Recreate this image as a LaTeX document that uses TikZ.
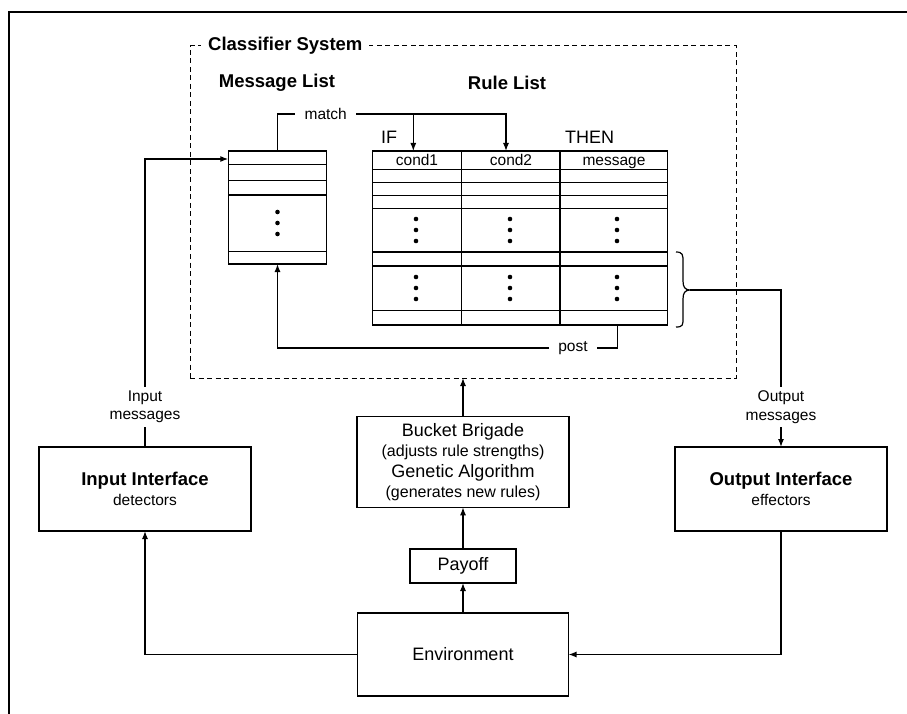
\documentclass[tikz,border=0pt]{standalone}
\usepackage{fontspec}
\setmainfont{Liberation Sans}
\usetikzlibrary{arrows.meta}
\newcommand\fsm{\fontsize{15.5}{18.5}\selectfont}
\newcommand\flg{\fontsize{18}{20.5}\selectfont}
\newcommand\fbf{\fontsize{18.5}{21}\selectfont\bfseries}
\begin{document}
\begin{tikzpicture}[x=1pt,y=-1pt,
  box/.style={draw, line width=1.2pt, inner sep=0pt, outer sep=0pt},
  ln/.style={line width=1.2pt},
  arr/.style={line width=1.2pt, -{Latex[length=8pt,width=6pt]}},
  lbl/.style={inner sep=0pt, font=\fsm},
  dot/.style={fill=black}]
\useasboundingbox (0,0) rectangle (907,714);
% outer frame
\draw[line width=2.6pt] (907,12) -- (9,12) -- (9,714);

% classifier system dashed box
\node[box, line width=1pt, dash pattern=on 5pt off 3.5pt, minimum width=546pt, minimum height=332pt, anchor=north west] (cs) at (190,46) {};
\node[fill=white, inner xsep=7pt, inner ysep=2pt, anchor=west, font=\fbf] (cstitle) at (201,46) {Classifier System};
\node[lbl, font=\fbf] (mlt) at (277,83) {Message List};
\node[lbl, font=\fbf] (rlt) at (507,83) {Rule List};
\node[lbl, font=\flg, anchor=west] (if) at (381,137) {IF};
\node[lbl, font=\flg, anchor=west] (then) at (565,137) {THEN};

% message list
\node[box, minimum width=98.4pt, minimum height=113pt, anchor=north west] (ml) at (228.3,151) {};
\foreach \y in {164.3,180.7,195,251.7} \draw[ln] (228.3,\y) -- (326.7,\y);
\foreach \y in {212,223,234} \fill (277.5,\y) circle (2.3pt);

% rule list
\node[box, minimum width=295.4pt, minimum height=174pt, anchor=north west] (rl) at (372.3,151) {};
\foreach \y in {169.3,182.3,195.7,208.3,252,266,310.7} \draw[ln] (372.3,\y) -- (667.7,\y);
\draw[ln] (461.7,151) -- (461.7,325);
\draw[line width=2.6pt] (560,151) -- (560,325);
\node[lbl, anchor=base] (c1t) at (417,165.5) {cond1};
\node[lbl, anchor=base] (c2t) at (511,165.5) {cond2};
\node[lbl, anchor=base] (mst) at (614,165.5) {message};
\foreach \x in {416,510,617}{
  \foreach \y in {219,230,241,277,288,299} \fill (\x,\y) circle (2.3pt);
}

% match
\node[lbl, inner xsep=9pt, inner ysep=0pt] (match) at (325.7,114) {match};
\coordinate (c1) at (413.3,151);
\coordinate (c2) at (506,151);
\draw[ln] (ml.north) |- (match.west);
\draw[arr] (match.east) -| (c2);
\draw[arr] (c1 |- match.east) -- (c1);

% post
\coordinate (pst) at (617.3,325);
\node[lbl, inner xsep=9pt] (post) at (573,348) {post};
\draw[ln] (pst) |- (post.east);
\draw[arr] (post.west) -| (ml.south);

% brace
\coordinate (brtip) at (690,290);
\draw[ln] (676,252) .. controls (683,252) and (683,255) .. (683,262) -- (683,281)
  .. controls (683,287) and (685,290) .. (brtip)
  .. controls (685,290) and (683,293) .. (683,299) -- (683,318)
  .. controls (683,325) and (683,327) .. (676,327);

% interfaces
\node[box, minimum width=212pt, minimum height=84pt, align=center, font=\fsm] (ib) at (145,489) {{\fbf Input Interface}\\[2pt]detectors};
\node[box, minimum width=212pt, minimum height=84pt, align=center, font=\fsm] (ob) at (781,489) {{\fbf Output Interface}\\[2pt]effectors};
\node[lbl, align=center, inner ysep=4pt] (inmsg) at (145,407) {Input\\messages};
\node[lbl, align=center, inner ysep=4pt] (outmsg) at (781,407) {Output\\messages};
\coordinate (mlin) at (228.3,159);
\draw[ln] (ib.north) -- (inmsg.south);
\draw[arr] (inmsg.north) |- (mlin);
\draw[ln] (brtip) -| (outmsg.north);
\draw[arr] (outmsg.south) -- (ob.north);

% bucket brigade
\node[box, minimum width=212pt, minimum height=90.6pt, align=center, font=\flg] (bb) at (463,462) {Bucket Brigade\\{\fontsize{16}{20.5}\selectfont (adjusts rule strengths)}\\Genetic Algorithm\\{\fontsize{16}{20.5}\selectfont (generates new rules)}};
\draw[arr] (bb.north) -- (cs.south -| bb.north);

% payoff
\node[box, minimum width=106pt, minimum height=34pt, font=\flg] (pay) at (463,566) {Payoff};
\draw[arr] (pay.north) -- (bb.south);

% environment
\node[box, minimum width=211pt, minimum height=83pt, font=\flg] (env) at (463,654.5) {Environment};
\draw[arr] (env.north) -- (pay.south);
\draw[arr] (env.west) -| (ib.south);
\draw[arr] (ob.south) |- (env.east);
\end{tikzpicture}
\end{document}
